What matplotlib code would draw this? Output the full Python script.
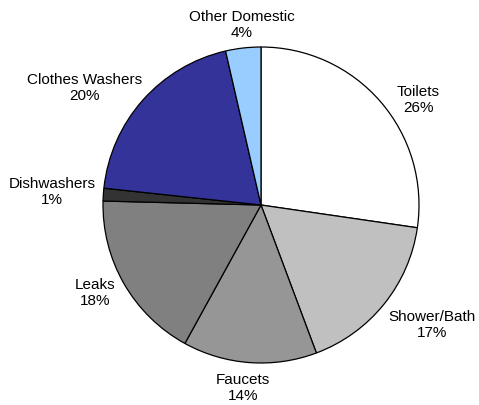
import matplotlib
matplotlib.use("Agg")
import matplotlib.pyplot as plt

# slice shares, labels as printed
categories = ["Toilets", "Shower/Bath", "Faucets", "Leaks", "Dishwashers",
              "Clothes Washers", "Other Domestic"]
shares = [27.3, 17.0, 13.7, 17.4, 1.3, 19.7, 3.6]
pct_text = ["26%", "17%", "14%", "18%", "1%", "20%", "4%"]
colors = ["#ffffff", "#c0c0c0", "#969696", "#808080", "#333333",
          "#333399", "#99ccff"]

# label anchor points in pie-radius units
label_xy = [(0.994, 0.671), (1.082, -0.753), (-0.114, -1.152),
            (-1.051, -0.551), (-1.323, 0.089), (-1.114, 0.747),
            (-0.120, 1.146)]

plt.rcParams['font.family'] = ['Liberation Sans', 'DejaVu Sans']

fig = plt.figure(figsize=(4.79, 4.06), dpi=100)
ax = fig.add_axes([0, 0, 1, 1])

ax.pie(shares, colors=colors, startangle=90, counterclock=False, radius=1,
       wedgeprops=dict(edgecolor="black", linewidth=0.9))

for name, p, (x, y) in zip(categories, pct_text, label_xy):
    ax.text(x, y, name + "\n" + p, ha="center", va="center",
            fontsize=11, linespacing=1.25)

ax.set_xlim(-261/158, 218/158)
ax.set_ylim(-200/158, 206/158)
ax.set_aspect("auto")
ax.axis("off")

fig.savefig("out.png", dpi=100)
